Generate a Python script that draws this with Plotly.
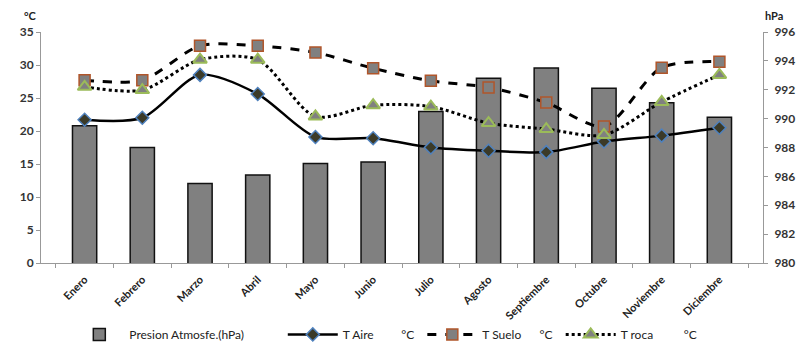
import plotly.graph_objects as go

meses = ["Enero", "Febrero", "Marzo", "Abril", "Mayo", "Junio", "Julio",
         "Agosto", "Septiembre", "Octubre", "Noviembre", "Diciembre"]
presion_hpa = [989.5, 988.0, 985.5, 986.1, 986.9, 987.0, 990.5, 992.8, 993.5, 992.1, 991.1, 990.1]
t_aire = [21.7, 22.0, 28.5, 25.6, 19.1, 18.9, 17.5, 17.0, 16.8, 18.4, 19.3, 20.5]
t_suelo = [27.7, 27.7, 32.9, 32.9, 31.9, 29.5, 27.6, 26.6, 24.3, 20.7, 29.6, 30.5]
t_roca = [26.7, 26.2, 30.8, 30.8, 22.2, 23.9, 23.7, 21.2, 20.3, 19.4, 24.4, 28.5]

nb = "\u00a0"
fnt = "Lato, Liberation Sans, sans-serif"
fig = go.Figure()

# pressure bars sit on the base axis (drawn first, shown on the right side)
fig.add_trace(go.Bar(
    x=meses, y=presion_hpa, name="Presion Atmosfe.(hPa)" + nb * 11, yaxis="y",
    marker=dict(color="#808080", line=dict(color="#111111", width=1.5)),
    width=0.42,
))
# temperature lines on the overlaying axis so they render above the bars
fig.add_trace(go.Scatter(
    x=meses, y=t_aire, name="T Aire" + nb * 9 + "°C" + nb, mode="lines+markers", yaxis="y2",
    line=dict(color="#000000", width=2.5, shape="spline", smoothing=0.8),
    marker=dict(symbol="diamond", size=10, color="#3b3a28",
                line=dict(color="#4F81BD", width=1.5)),
))
fig.add_trace(go.Scatter(
    x=meses, y=t_suelo, name="T Suelo" + nb * 6 + "°C" + nb, mode="lines+markers", yaxis="y2",
    line=dict(color="#000000", width=3, dash="dash", shape="spline", smoothing=0.8),
    marker=dict(symbol="square", size=11, color="#808080",
                line=dict(color="#B0552A", width=1.5)),
))
fig.add_trace(go.Scatter(
    x=meses, y=t_roca, name="T roca" + nb * 10 + "°C", mode="lines+markers", yaxis="y2",
    line=dict(color="#000000", width=3, dash="dot", shape="spline", smoothing=0.8),
    marker=dict(symbol="triangle-up", size=12, color="#808080",
                line=dict(color="#9BBB59", width=2)),
))

axis_font = dict(family=fnt, size=12, color="#333333", weight="bold")

fig.update_layout(
    width=806, height=343,
    margin=dict(l=41, r=43, t=32, b=80, autoexpand=False),
    paper_bgcolor="white", plot_bgcolor="white",
    showlegend=True,
    legend=dict(orientation="h", x=0.086, y=0.025, xref="container", yref="container",
                xanchor="left", yanchor="middle", itemwidth=50,
                font=dict(family=fnt, size=12, color="#222222"),
                traceorder="normal", bgcolor="rgba(0,0,0,0)"),
    xaxis=dict(
        type="category", tickangle=-45, tickson="boundaries",
        showline=True, linecolor="#999999", linewidth=1,
        ticks="outside", ticklen=4, tickcolor="#999999", ticklabelstandoff=5,
        tickfont=dict(family=fnt, size=11, color="#222222", weight="bold"),
        showgrid=False, zeroline=False, automargin=False,
    ),
    yaxis=dict(
        range=[980, 996], dtick=2, side="right",
        showline=True, linecolor="#999999", linewidth=1,
        ticks="outside", ticklen=4, tickcolor="#999999", ticklabelstandoff=4,
        tickfont=axis_font, showgrid=False, zeroline=False, automargin=False,
    ),
    yaxis2=dict(
        range=[0, 35], dtick=5, side="left", overlaying="y",
        showline=True, linecolor="#999999", linewidth=1,
        ticks="outside", ticklen=4, tickcolor="#999999",
        tickfont=axis_font, showgrid=False, zeroline=False, automargin=False,
    ),
    annotations=[
        dict(text="°C", xref="paper", yref="paper", x=-0.015, y=1.0, yshift=8,
             xanchor="center", yanchor="bottom", showarrow=False,
             font=dict(family=fnt, size=11, color="#222222", weight="bold")),
        dict(text="hPa", xref="paper", yref="paper", x=1.0, y=1.0, yshift=8,
             xanchor="left", yanchor="bottom", showarrow=False,
             font=dict(family=fnt, size=11, color="#222222", weight="bold")),
    ],
)

fig.write_html("out.html")
